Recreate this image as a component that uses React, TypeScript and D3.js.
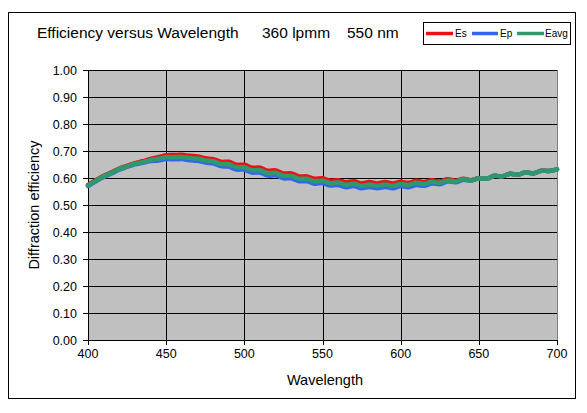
import React from "react";
import * as d3 from "d3";

const wavelengths = [400,405,410,415,420,425,430,435,440,445,450,455,460,465,470,475,480,485,490,495,500,505,510,515,520,525,530,535,540,545,550,555,560,565,570,575,580,585,590,595,600,605,610,615,620,625,630,635,640,645,650,655,660,665,670,675,680,685,690,695,700];

const Es = [0.574,0.592,0.608,0.621,0.635,0.645,0.655,0.662,0.671,0.677,0.684,0.685,0.686,0.682,0.680,0.673,0.670,0.660,0.660,0.649,0.649,0.638,0.638,0.627,0.628,0.617,0.617,0.606,0.606,0.597,0.599,0.590,0.592,0.584,0.588,0.580,0.585,0.580,0.585,0.580,0.586,0.582,0.590,0.585,0.592,0.587,0.595,0.590,0.597,0.592,0.599,0.597,0.608,0.606,0.616,0.612,0.621,0.617,0.627,0.626,0.632];

const Ep = [0.570,0.588,0.604,0.617,0.631,0.641,0.651,0.656,0.663,0.665,0.670,0.669,0.670,0.666,0.664,0.657,0.654,0.644,0.642,0.631,0.631,0.620,0.620,0.609,0.610,0.599,0.599,0.588,0.588,0.579,0.581,0.572,0.574,0.566,0.570,0.562,0.567,0.562,0.567,0.562,0.570,0.566,0.574,0.571,0.580,0.577,0.587,0.584,0.593,0.590,0.599,0.597,0.608,0.606,0.616,0.612,0.621,0.617,0.627,0.626,0.632];

const Eavg = [0.572,0.590,0.606,0.619,0.633,0.643,0.653,0.659,0.667,0.671,0.677,0.677,0.678,0.674,0.672,0.665,0.662,0.652,0.651,0.640,0.640,0.629,0.629,0.618,0.619,0.608,0.608,0.597,0.597,0.588,0.590,0.581,0.583,0.575,0.579,0.571,0.576,0.571,0.576,0.571,0.578,0.574,0.582,0.578,0.586,0.582,0.591,0.587,0.595,0.591,0.599,0.597,0.608,0.606,0.616,0.612,0.621,0.617,0.627,0.626,0.632];

const seriesNames = ["Es", "Ep", "Eavg"];
const seriesColors = ["#ee1111", "#3366ee", "#2e9a6c"];
const xTicks = [400, 450, 500, 550, 600, 650, 700];
const yTicks = [0, 0.1, 0.2, 0.3, 0.4, 0.5, 0.6, 0.7, 0.8, 0.9, 1.0];
const titleParts = ["Efficiency versus Wavelength", "360 lpmm", "550 nm"];

const W = 587, H = 413;
const plot = { left: 88, right: 557, top: 70, bottom: 340 };
const FONT = "'Liberation Sans', Arial, sans-serif";

export default function App() {
  const x = d3.scaleLinear().domain([400, 700]).range([plot.left, plot.right]);
  const y = d3.scaleLinear().domain([0, 1]).range([plot.bottom, plot.top]);
  const seriesData = [Es, Ep, Eavg];
  const line = d3
    .line<number>()
    .x((_, i) => x(wavelengths[i]))
    .y((d) => y(d))
    .curve(d3.curveCatmullRom.alpha(0.5));

  const legendX = 423, legendY = 22;
  const legendItems = [
    { x0: 426, x1: 453, tx: 455 },
    { x0: 472, x1: 498, tx: 500 },
    { x0: 517, x1: 544, tx: 545 },
  ];
  const titleX = [37, 262, 347];

  return (
    <svg
      width={W}
      height={H}
      style={{ position: "absolute", left: 0, top: 0, background: "#fff" }}
      fontFamily={FONT}
    >
      <rect x={0} y={0} width={W} height={H} fill="#fff" />
      <rect x={8.5} y={12.5} width={567} height={386} fill="#fff" stroke="#000" strokeWidth={1} />

      {titleParts.map((t, i) => (
        <text key={t} x={titleX[i]} y={38} fontSize={15.5} fill="#000">
          {t}
        </text>
      ))}

      <rect
        x={plot.left}
        y={plot.top}
        width={plot.right - plot.left}
        height={plot.bottom - plot.top}
        fill="#c0c0c0"
      />

      {yTicks.map((t) => (
        <g key={"y" + t}>
          <line x1={plot.left - 5} x2={plot.right} y1={Math.round(y(t)) + 0.5} y2={Math.round(y(t)) + 0.5} stroke="#000" strokeWidth={1} />
          <text x={77} y={y(t) + 4.5} fontSize={12.5} textAnchor="end" fill="#000">
            {t.toFixed(2)}
          </text>
        </g>
      ))}

      {xTicks.map((t) => (
        <g key={"x" + t}>
          <line
            x1={Math.round(x(t)) + 0.5}
            x2={Math.round(x(t)) + 0.5}
            y1={plot.top}
            y2={plot.bottom + 5}
            stroke={t === 700 ? "#808080" : "#000"}
            strokeWidth={1}
          />
          {t === 700 && (
            <line x1={Math.round(x(t)) + 0.5} x2={Math.round(x(t)) + 0.5} y1={plot.bottom} y2={plot.bottom + 5} stroke="#000" />
          )}
          <text x={x(t)} y={358} fontSize={12.5} textAnchor="middle" fill="#000">
            {t}
          </text>
        </g>
      ))}

      <line x1={plot.left + 0.5} x2={plot.left + 0.5} y1={plot.top} y2={plot.bottom} stroke="#000" />
      <line x1={plot.left} x2={plot.right} y1={plot.bottom + 0.5} y2={plot.bottom + 0.5} stroke="#000" />

      {seriesData.map((s, i) => (
        <path
          key={seriesNames[i]}
          d={line(s) || ""}
          fill="none"
          stroke={seriesColors[i]}
          strokeWidth={4.5}
          strokeLinejoin="round"
          strokeLinecap="round"
        />
      ))}

      <text
        transform={`translate(39, 205) rotate(-90)`}
        fontSize={14.5}
        textAnchor="middle"
        fill="#000"
      >
        Diffraction efficiency
      </text>
      <text x={325} y={385} fontSize={14.5} textAnchor="middle" fill="#000">
        Wavelength
      </text>

      <rect x={legendX + 0.5} y={legendY + 0.5} width={147} height={22} fill="#fff" stroke="#000" />
      {legendItems.map((it, i) => (
        <g key={"lg" + i}>
          <line x1={it.x0} x2={it.x1} y1={33.5} y2={33.5} stroke={seriesColors[i]} strokeWidth={3.5} />
          <text x={it.tx} y={37} fontSize={10} fill="#000">
            {seriesNames[i]}
          </text>
        </g>
      ))}
    </svg>
  );
}
